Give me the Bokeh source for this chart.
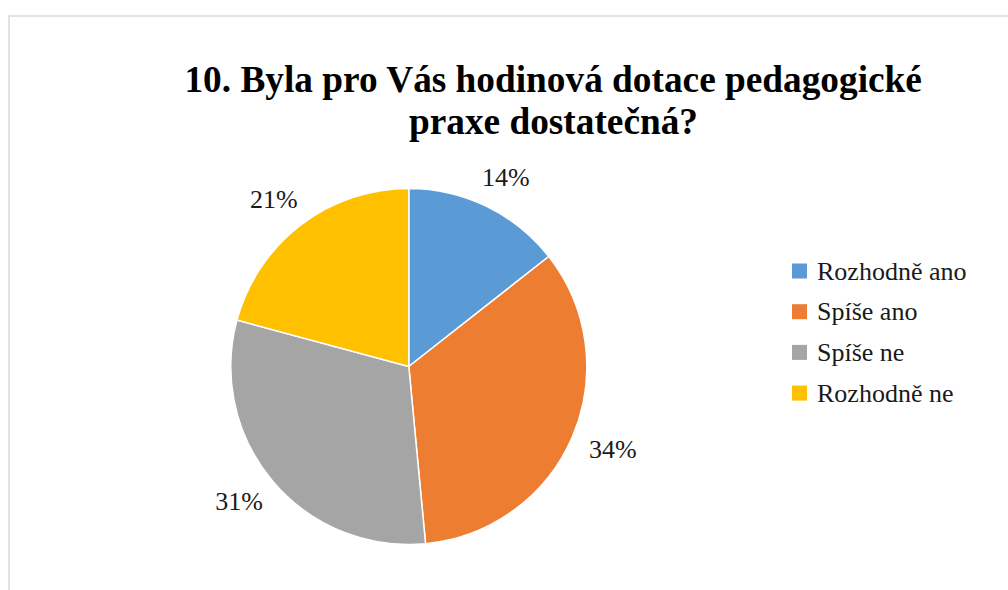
import math
from bokeh.plotting import figure
from bokeh.models import Range1d
from bokeh.core.properties import value
from bokeh.embed import file_html
from bokeh.resources import INLINE

# ---- data ----
title_lines = ["10. Byla pro Vás hodinová dotace pedagogické", "praxe dostatečná?"]
categories = ["Rozhodně ano", "Spíše ano", "Spíše ne", "Rozhodně ne"]
shares = [14.4, 34.1, 30.7, 20.8]
labels = ["14%", "34%", "31%", "21%"]
colors = ["#5B9BD5", "#ED7D31", "#A5A5A5", "#FFC000"]

W, H = 1008, 590
SERIF = "'Liberation Serif', 'Times New Roman', serif"

p = figure(width=W, height=H, output_backend="svg", toolbar_location=None,
           x_range=Range1d(0, W), y_range=Range1d(0, H),
           x_axis_type=None, y_axis_type=None, min_border=0)
p.grid.visible = False
p.outline_line_color = None
p.background_fill_color = "white"

def sy(y):
    return H - y

# frame border (cut off at right/bottom)
p.line([8.5, 8.5, 1010], [sy(600), sy(15.5), sy(15.5)],
       line_color="#D9D9D9", line_width=1.5)

# pie
cx, cy, R = 408.3, sy(366), 178
total = sum(shares)
starts, ends, mids = [], [], []
acc = 0.0
for s in shares:
    a0 = math.pi / 2 - 2 * math.pi * acc / total
    acc += s
    a1 = math.pi / 2 - 2 * math.pi * acc / total
    starts.append(a0)
    ends.append(a1)
    mids.append((a0 + a1) / 2)

p.wedge(x=[cx] * 4, y=[cy] * 4, radius=R, start_angle=starts, end_angle=ends,
        direction="clock", fill_color=colors, line_color="white", line_width=1.5)

# data labels (outside end): gap 20 px + half label box (48 x 24)
lx, ly = [], []
for m in mids:
    c, s = math.cos(m), math.sin(m)
    lx.append(cx + (R + 20 + 24) * c)
    ly.append(cy + (R + 20 + 12) * s)
p.text(x=lx, y=ly, text=labels, text_font=value(SERIF),
       text_font_style="normal", text_font_size="26px",
       text_color="#1a1a1a", text_align="center", text_baseline="middle")

# title
p.text(x=[553, 553], y=[sy(79), sy(120.5)], text=title_lines,
       text_font=value(SERIF), text_font_style="bold", text_font_size="37.3px",
       text_color="black", text_align="center", text_baseline="alphabetic")

# legend
ys = [sy(270.5 + 40.7 * i) for i in range(len(categories))]
p.rect(x=[799] * 4, y=ys, width=15, height=15,
       width_units="screen", height_units="screen", fill_color=colors, line_color=None)
p.text(x=[816.5] * 4, y=ys, text=categories, text_font=value(SERIF),
       text_font_style="normal", text_font_size="26px",
       text_color="#1a1a1a", text_align="left", text_baseline="middle")

open("out.html", "w").write(file_html(p, INLINE))
